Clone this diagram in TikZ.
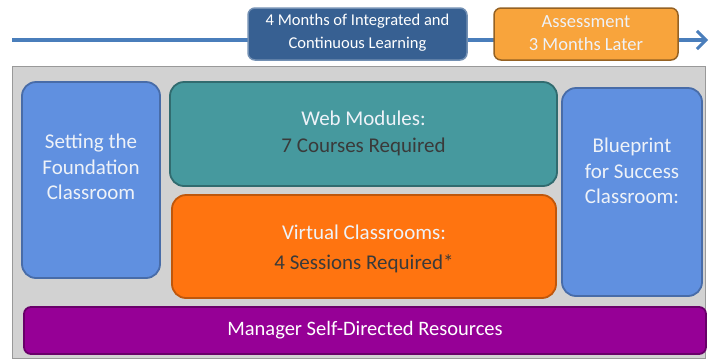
\documentclass[tikz,border=0pt]{standalone}
\usepackage{fontspec}
\setmainfont{Carlito}
\usetikzlibrary{arrows.meta}
\definecolor{lineblue}{HTML}{4A7EBB}
\definecolor{navy}{HTML}{376092}
\definecolor{amber}{HTML}{F8A43C}
\definecolor{bgray}{HTML}{D2D2D2}
\definecolor{sblue}{HTML}{6090E0}
\definecolor{teal}{HTML}{46999E}
\definecolor{orng}{HTML}{FF7410}
\definecolor{purp}{HTML}{960096}
\definecolor{dtext}{HTML}{3A3A3A}
\definecolor{ltext}{HTML}{EEF2F8}
\tikzset{
  panel/.style={rounded corners=14pt, line width=1.8pt, inner sep=0pt},
  topbox/.style={rounded corners=7pt, line width=1.5pt, inner sep=0pt},
  bigtxt/.style={align=center, inner sep=0pt, font=\fontsize{21}{25.5}\selectfont},
}
\begin{document}
\begin{tikzpicture}[x=1pt,y=-1pt]
\useasboundingbox (0,0) rectangle (710,360);
% timeline arrow
\coordinate (ls) at (12,40);
\coordinate (le) at (708,40);
\draw[lineblue, line width=3.5pt, -{Straight Barb[length=9pt,width=18pt,line width=3pt]}] (ls) -- (le);
% top boxes
\node[topbox, draw=navy!70!white, fill=navy, minimum width=219pt, minimum height=52pt] (months) at (357.5,34) {};
\node[align=center, inner sep=0pt, text=white, font=\fontsize{16.5}{22.5}\selectfont] (monthst) at (357.5,32.5) {4 Months of Integrated and\\Continuous Learning};
\node[topbox, draw=amber!60!black, fill=amber, minimum width=184pt, minimum height=52pt] (assess) at (586,34) {};
\node[align=center, inner sep=0pt, text=ltext, font=\fontsize{18.5}{23}\selectfont] (assesst) at (586,33.5) {Assessment\\3 Months Later};
% gray background
\node[draw=gray!80, line width=1pt, fill=bgray, minimum width=693pt, minimum height=292pt, inner sep=0pt] (bg) at (358.5,212) {};
% left
\node[panel, draw=sblue!75!black, fill=sblue, minimum width=138pt, minimum height=196pt] (found) at (91,180) {};
\node[bigtxt, text=ltext] (foundt) at (91,167) {Setting the\\Foundation\\Classroom};
% teal
\node[panel, draw=teal!70!black, fill=teal, minimum width=387pt, minimum height=104pt] (web) at (363.5,134) {};
\node[bigtxt, text=ltext] (webt) at (363.5,118) {Web Modules:};
\node[bigtxt, text=dtext] (webs) at (363.5,147) {7 Courses Required};
% orange
\node[panel, draw=orng!75!black, fill=orng, minimum width=384pt, minimum height=103pt] (virt) at (364,246.5) {};
\node[bigtxt, text=ltext] (virtt) at (364,232) {Virtual Classrooms:};
\node[bigtxt, text=dtext] (virts) at (364,264) {4 Sessions Required*};
% right
\node[panel, draw=sblue!75!black, fill=sblue, minimum width=140pt, minimum height=208pt] (blue) at (632,192) {};
\node[bigtxt, text=ltext] (bluet) at (632,171) {Blueprint\\for Success\\Classroom:};
% purple
\node[panel, rounded corners=7pt, draw=purp!70!black, fill=purp, minimum width=682pt, minimum height=47pt] (mgr) at (365,330.5) {};
\node[bigtxt, text=white, font=\fontsize{20.5}{24}\selectfont] (mgrt) at (365,330.5) {Manager Self-Directed Resources};
\end{tikzpicture}
\end{document}
